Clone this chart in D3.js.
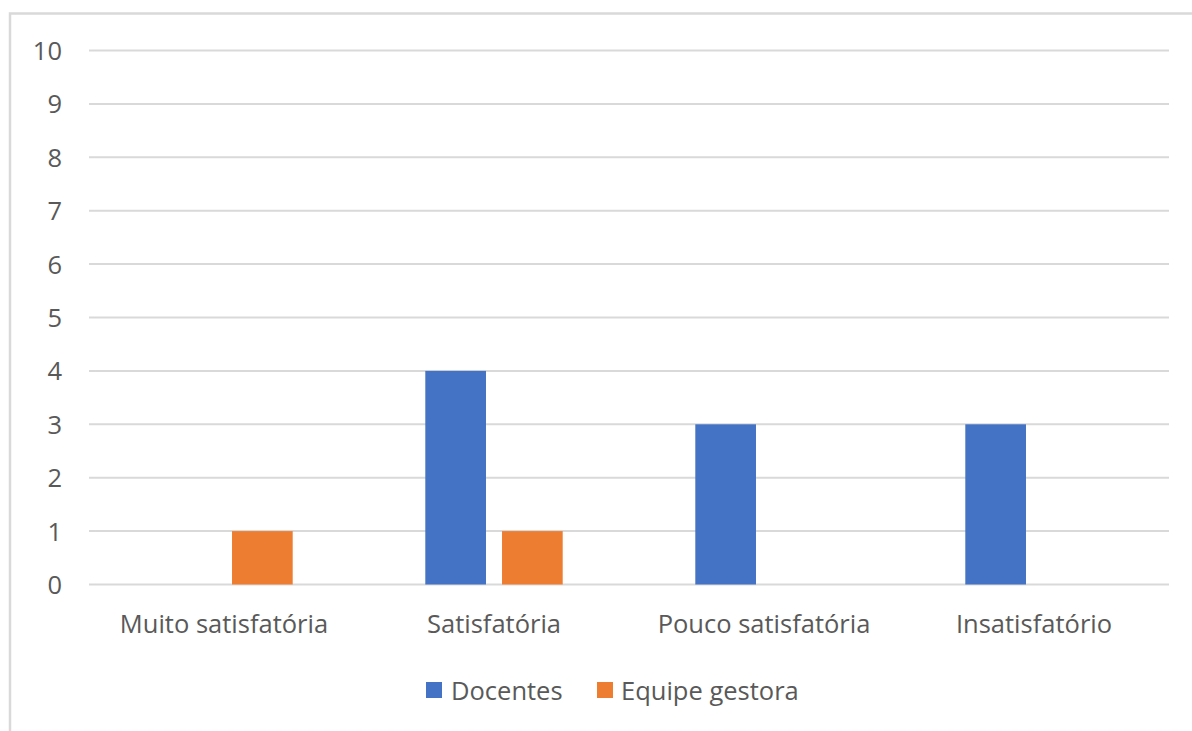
<!DOCTYPE html>
<html>
<head>
<meta charset="utf-8">
<script src="https://cdn.jsdelivr.net/npm/d3@7"></script>
<style>
  html, body { margin: 0; padding: 0; background: #fff; }
  svg { display: block; }
  text { font-family: "Open Sans", "Noto Sans", sans-serif; fill: #595959; }
</style>
</head>
<body>
<svg id="chart" width="1192" height="731"></svg>
<script>
// Evaluation categories and counts per respondent group
const categories = ["Muito satisfatória", "Satisfatória", "Pouco satisfatória", "Insatisfatório"];
const seriesNames = ["Docentes", "Equipe gestora"];
const docentes = [0, 4, 3, 3];
const equipeGestora = [1, 1, 0, 0];
const yTicks = [0, 1, 2, 3, 4, 5, 6, 7, 8, 9, 10];
const colors = ["#4472C4", "#ED7D31"];

const seriesValues = [docentes, equipeGestora];

const svg = d3.select("#chart");
const W = 1192, H = 731;
const fontSize = 25.5;

const plot = { left: 89, right: 1169, top: 50.5, bottom: 584.5 };

// Chart frame
svg.append("path")
  .attr("d", `M10,${H + 5} L10,13.5 L${W + 5},13.5`)
  .attr("fill", "none")
  .attr("stroke", "#D9D9D9")
  .attr("stroke-width", 2.5);

const y = d3.scaleLinear().domain([0, 10]).range([plot.bottom, plot.top]);
const x0 = d3.scaleBand().domain(categories).range([plot.left, plot.right]).paddingInner(0).paddingOuter(0);
const groupPad = 66.3;
const x1 = d3.scaleBand().domain(seriesNames)
  .range([groupPad, x0.bandwidth() - groupPad])
  .paddingInner(0.209).paddingOuter(0);

// Horizontal gridlines
svg.append("g")
  .selectAll("line")
  .data(yTicks)
  .join("line")
  .attr("x1", plot.left)
  .attr("x2", plot.right)
  .attr("y1", d => y(d))
  .attr("y2", d => y(d))
  .attr("stroke", "#D9D9D9")
  .attr("stroke-width", 2);

// Y axis labels
const yAxis = d3.axisLeft(y).tickValues(yTicks).tickSize(0).tickPadding(0).tickFormat(d3.format("d"));
const yg = svg.append("g").attr("transform", `translate(62,0)`).call(yAxis);
yg.select(".domain").remove();
yg.selectAll("text")
  .attr("font-size", fontSize)
  .attr("font-family", null)
  .attr("fill", "#595959")
  .attr("dy", "0.35em");

// Bars
const groups = svg.append("g")
  .selectAll("g")
  .data(categories)
  .join("g")
  .attr("transform", d => `translate(${x0(d)},0)`);

groups.selectAll("rect")
  .data((c, i) => seriesNames.map((s, j) => ({ s, j, v: seriesValues[j][i] })))
  .join("rect")
  .filter(d => d.v > 0)
  .attr("x", d => x1(d.s))
  .attr("width", x1.bandwidth())
  .attr("y", d => y(d.v))
  .attr("height", d => y(0) - y(d.v))
  .attr("fill", d => colors[d.j]);

// Category labels
const xAxis = d3.axisBottom(x0).tickSize(0).tickPadding(0);
const xg = svg.append("g").attr("transform", `translate(0,${plot.bottom})`).call(xAxis);
xg.select(".domain").remove();
xg.selectAll("text")
  .attr("font-size", fontSize)
  .attr("font-family", null)
  .attr("fill", "#595959")
  .attr("y", 48.5)
  .attr("dy", 0);

// Legend
const legendItems = [
  { name: seriesNames[0], color: colors[0], sx: 426, tx: 451 },
  { name: seriesNames[1], color: colors[1], sx: 597, tx: 621 }
];
const lg = svg.append("g");
lg.selectAll("rect")
  .data(legendItems)
  .join("rect")
  .attr("x", d => d.sx)
  .attr("y", 682)
  .attr("width", 16)
  .attr("height", 16)
  .attr("fill", d => d.color);
lg.selectAll("text")
  .data(legendItems)
  .join("text")
  .attr("x", d => d.tx)
  .attr("y", 700)
  .attr("font-size", fontSize)
  .text(d => d.name);
</script>
</body>
</html>
